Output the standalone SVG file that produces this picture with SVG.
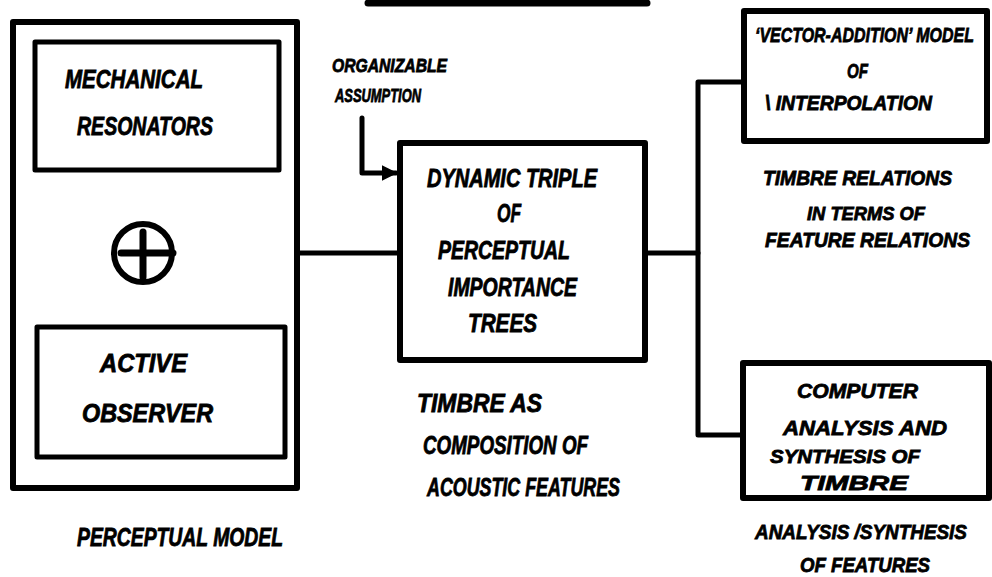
<svg xmlns="http://www.w3.org/2000/svg" width="992" height="577" viewBox="0 0 992 577">
  <style>
    .box { fill: none; stroke: #000; stroke-width: 6; stroke-linejoin: round; stroke-linecap: round; }
    .inner { fill: none; stroke: #000; stroke-width: 5; stroke-linejoin: round; stroke-linecap: round; }
    .wire { fill: none; stroke: #000; stroke-width: 5; stroke-linejoin: round; stroke-linecap: round; }
    .hand { font-family: "Liberation Sans", Arial, sans-serif; font-weight: bold; font-style: italic; font-size: 25px; fill: #000; stroke: #000; stroke-width: 0.8; }
    .small { font-size: 21px; }
    .tiny { font-size: 19px; }
  </style>
  <defs>
    <marker id="arrow" viewBox="0 0 10 10" refX="9" refY="5" markerWidth="3.2" markerHeight="3.2" orient="auto" markerUnits="strokeWidth">
      <path d="M0,0 L10,5 L0,10 Z" fill="#000"/>
    </marker>
  </defs>
  <rect width="992" height="577" fill="#fff"/>

  <!-- edge of a box running off the top of the sheet -->
  <line x1="368" y1="3" x2="647" y2="3" stroke="#000" stroke-width="7" stroke-linecap="round"/>

  <!-- connectors -->
  <g id="connectors">
    <line class="wire" x1="297" y1="253" x2="400" y2="253"/>
    <polyline class="wire" points="362,118 362,173 396,173" marker-end="url(#arrow)"/>
    <line class="wire" x1="645" y1="253" x2="698" y2="253"/>
    <polyline class="wire" points="742,82 698,82 698,435 743,435"/>
  </g>

  <!-- perceptual model -->
  <g id="perceptual-model">
    <rect class="box" x="13" y="22" width="284" height="466"/>
    <g id="mechanical-resonators">
      <rect class="inner" x="35" y="42" width="244" height="128"/>
      <text class="hand" x="65" y="88" textLength="138" lengthAdjust="spacingAndGlyphs">MECHANICAL</text>
      <text class="hand" x="77" y="135" textLength="136" lengthAdjust="spacingAndGlyphs">RESONATORS</text>
    </g>
    <g id="combine">
      <circle cx="143" cy="253" r="29" fill="none" stroke="#000" stroke-width="6"/>
      <line x1="121" y1="253" x2="173" y2="253" stroke="#000" stroke-width="7" stroke-linecap="round"/>
      <line x1="143" y1="232" x2="143" y2="277" stroke="#000" stroke-width="7" stroke-linecap="round"/>
    </g>
    <g id="active-observer">
      <rect class="inner" x="37" y="327" width="248" height="130"/>
      <text class="hand" x="100" y="372" textLength="87" lengthAdjust="spacingAndGlyphs">ACTIVE</text>
      <text class="hand" x="82" y="422" textLength="131" lengthAdjust="spacingAndGlyphs">OBSERVER</text>
    </g>
    <text class="hand" x="77" y="546" textLength="206" lengthAdjust="spacingAndGlyphs">PERCEPTUAL MODEL</text>
  </g>

  <!-- input assumption -->
  <g id="assumption">
    <text class="hand tiny" x="332" y="72" textLength="115" lengthAdjust="spacingAndGlyphs">ORGANIZABLE</text>
    <text class="hand tiny" x="335" y="102" textLength="86" lengthAdjust="spacingAndGlyphs">ASSUMPTION</text>
  </g>

  <!-- importance trees -->
  <g id="importance-trees">
    <rect class="box" x="400" y="143" width="245" height="217"/>
    <text class="hand" x="427" y="187" textLength="170" lengthAdjust="spacingAndGlyphs">DYNAMIC TRIPLE</text>
    <text class="hand" x="497" y="222" textLength="24" lengthAdjust="spacingAndGlyphs">OF</text>
    <text class="hand" x="438" y="259" textLength="132" lengthAdjust="spacingAndGlyphs">PERCEPTUAL</text>
    <text class="hand" x="448" y="296" textLength="129" lengthAdjust="spacingAndGlyphs">IMPORTANCE</text>
    <text class="hand" x="468" y="332" textLength="69" lengthAdjust="spacingAndGlyphs">TREES</text>
    <text class="hand" x="417" y="412" textLength="125" lengthAdjust="spacingAndGlyphs">TIMBRE AS</text>
    <text class="hand" x="423" y="454" textLength="165" lengthAdjust="spacingAndGlyphs">COMPOSITION OF</text>
    <text class="hand" x="427" y="496" textLength="193" lengthAdjust="spacingAndGlyphs">ACOUSTIC FEATURES</text>
  </g>

  <!-- vector addition model -->
  <g id="vector-addition">
    <rect class="box" x="744" y="11" width="243" height="130"/>
    <text class="hand small" transform="translate(755,42) scale(0.76,1)">‘VECTOR-ADDITION’ MODEL</text>
    <text class="hand small" x="847" y="78" textLength="21" lengthAdjust="spacingAndGlyphs">OF</text>
    <text class="hand small" x="765" y="110" textLength="167" lengthAdjust="spacingAndGlyphs">\ INTERPOLATION</text>
    <text class="hand small" x="763" y="185" textLength="189" lengthAdjust="spacingAndGlyphs">TIMBRE RELATIONS</text>
    <text class="hand tiny" x="807" y="220" textLength="118" lengthAdjust="spacingAndGlyphs">IN TERMS OF</text>
    <text class="hand small" x="765" y="247" textLength="205" lengthAdjust="spacingAndGlyphs">FEATURE RELATIONS</text>
  </g>

  <!-- analysis and synthesis -->
  <g id="analysis-synthesis">
    <rect class="box" x="743" y="363" width="246" height="135"/>
    <text class="hand small" x="797" y="398" textLength="121" lengthAdjust="spacingAndGlyphs">COMPUTER</text>
    <text class="hand small" x="783" y="435" textLength="164" lengthAdjust="spacingAndGlyphs">ANALYSIS AND</text>
    <text class="hand tiny" x="770" y="463" textLength="150" lengthAdjust="spacingAndGlyphs">SYNTHESIS OF</text>
    <text class="hand small" x="800" y="490" textLength="108" lengthAdjust="spacingAndGlyphs">TIMBRE</text>
    <text class="hand small" x="755" y="539" textLength="212" lengthAdjust="spacingAndGlyphs">ANALYSIS /SYNTHESIS</text>
    <text class="hand small" x="800" y="572" textLength="130" lengthAdjust="spacingAndGlyphs">OF FEATURES</text>
  </g>
</svg>
